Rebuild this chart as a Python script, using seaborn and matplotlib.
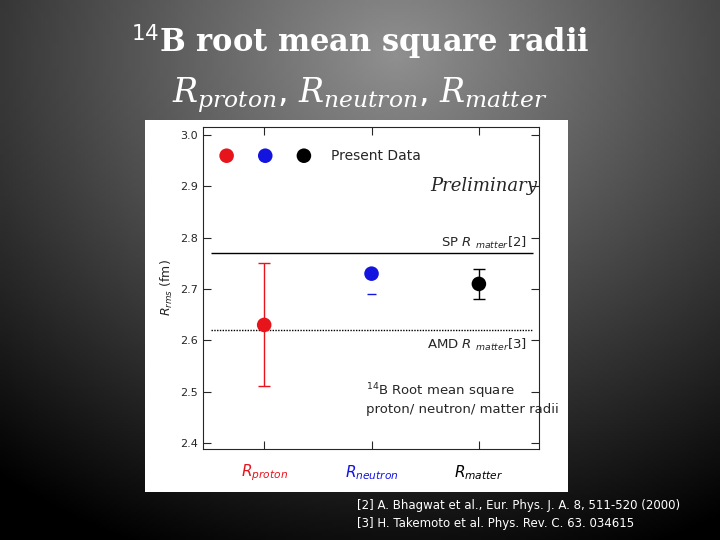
import numpy as np
import matplotlib
matplotlib.use("Agg")
import matplotlib.pyplot as plt
import seaborn as sns

sns.set_style("ticks")

categories = ["proton", "neutron", "matter"]
values = [2.63, 2.73, 2.71]
err_low = [0.12, 0.04, 0.03]
err_high = [0.12, 0.0, 0.03]
colors = ["#e8141c", "#1414e0", "black"]
sp_matter = 2.77
amd_matter = 2.62

fig = plt.figure(figsize=(7.2, 5.4), dpi=100)

# dark radial background, lighter towards top centre
bg = fig.add_axes([0, 0, 1, 1])
yy, xx = np.mgrid[0:1:200j, 0:1:200j]
r = np.sqrt((xx - 0.55) ** 2 + ((yy - 0.9) * 0.9) ** 2)
bg.imshow(r, cmap="gray_r", vmin=-0.7, vmax=0.9, extent=[0, 1, 0, 1],
          aspect="auto", origin="lower")
bg.axis("off")

# white panel
panel = fig.add_axes([145 / 720, 1 - 492 / 540, 423 / 720, 372 / 540])
panel.set_facecolor("white")
panel.set_xticks([]); panel.set_yticks([])
for s in panel.spines.values():
    s.set_visible(False)

ax = fig.add_axes([203 / 720, 1 - 449 / 540, 336 / 720, 322 / 540])
ax.set_facecolor("none")
x = np.arange(len(categories))
for i in range(len(categories)):
    if err_high[i] == 0:
        # only the lower cap is visible in the reference
        ax.hlines(values[i] - err_low[i], x[i] - 0.04, x[i] + 0.04, color=colors[i], lw=1)
        continue
    ax.errorbar(x[i], values[i], yerr=[[err_low[i]], [err_high[i]]], fmt="none",
                ecolor=colors[i], elinewidth=1, capsize=4, capthick=1)
sns.scatterplot(x=x, y=values, hue=categories, palette=colors, s=110, ax=ax,
                legend=False, edgecolor="none", zorder=3)
ax.hlines(sp_matter, -0.5, 2.5, color="black", lw=1)
ax.hlines(amd_matter, -0.5, 2.5, color="black", lw=1, linestyles=(0, (1, 1)))

# legend-like markers
for i, c in enumerate(colors):
    ax.scatter(-0.35 + 0.36 * i, 2.96, s=110, color=c, edgecolor="none")
ax.text(0.62, 2.96, "Present Data", va="center", fontsize=10)
ax.text(1.55, 2.9, "Preliminary", fontsize=13, style="italic", family="DejaVu Serif", va="center")
ax.text(2.45, 2.79, r"SP $R$ $_{matter}$[2]", ha="right", va="center", fontsize=9.5)
ax.text(2.45, 2.59, r"AMD $R$ $_{matter}$[3]", ha="right", va="center", fontsize=9.5)
ax.text(0.95, 2.5, "$^{14}$B Root mean square", va="center", fontsize=9.5)
ax.text(0.95, 2.465, "proton/ neutron/ matter radii", va="center", fontsize=9.5)

ax.set_xlim(-0.57, 2.56)
ax.set_ylim(2.388, 3.016)
ax.set_yticks([2.4, 2.5, 2.6, 2.7, 2.8, 2.9, 3.0])
ax.set_yticklabels(["2.4", "2.5", "2.6", "2.7", "2.8", "2.9", "3.0"], fontsize=8)
ax.tick_params(axis="y", direction="in", length=6, right=True, left=True, labelleft=True)
ax.tick_params(axis="x", direction="in", length=6, top=True)
ax.set_xticks(x)
ax.set_xticklabels([r"$R_{proton}$", r"$R_{neutron}$", r"$R_{matter}$"], fontsize=11)
for lab, c in zip(ax.get_xticklabels(), colors):
    lab.set_color(c)
ax.tick_params(axis="x", pad=10)
ax.set_ylabel(r"$R_{rms}$ (fm)", fontsize=9)

fig.text(0.5, 1 - 42 / 540, "$^{14}$B root mean square radii", ha="center", va="center",
         color="white", fontsize=22, fontweight="bold", family="DejaVu Serif")
fig.text(0.5, 1 - 95 / 540, r"$R_{proton}$, $R_{neutron}$, $R_{matter}$", ha="center",
         va="center", color="white", fontsize=24,
         math_fontfamily="dejavuserif")
fig.text(357 / 720, 1 - 505 / 540, "[2] A. Bhagwat et al., Eur. Phys. J. A. 8, 511-520 (2000)",
         color="white", fontsize=8.5, va="center")
fig.text(357 / 720, 1 - 524 / 540, "[3] H. Takemoto et al. Phys. Rev. C. 63. 034615",
         color="white", fontsize=8.5, va="center")

fig.savefig("out.png", dpi=100)
